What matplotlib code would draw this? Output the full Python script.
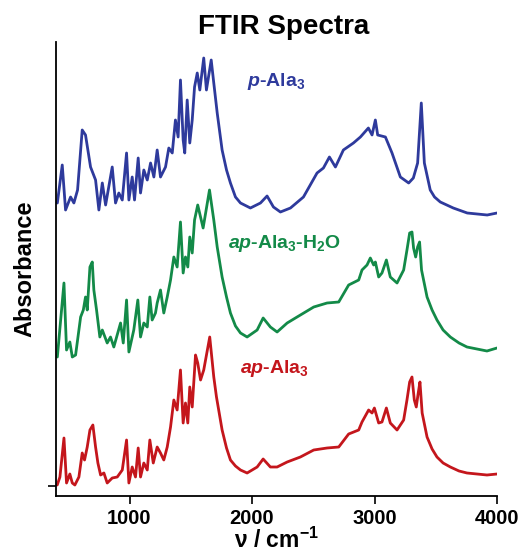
import matplotlib
matplotlib.use("Agg")
import matplotlib.pyplot as plt

# wavenumber (cm-1) and absorbance (a.u., each trace without its stacking offset)
nu_ap = [410, 432, 465, 486, 513, 533, 554, 587, 614, 633, 655, 677, 701, 723, 742, 764, 791,
         818, 859, 900, 941, 976, 995, 1022, 1049, 1071, 1090, 1117, 1145, 1166, 1194, 1226,
         1253, 1280, 1308, 1335, 1362, 1389, 1416, 1438, 1457, 1476, 1492, 1512, 1539, 1557,
         1580, 1606, 1655, 1688, 1710, 1756, 1792, 1824, 1865, 1906, 1960, 2042, 2091, 2150,
         2205, 2287, 2395, 2504, 2613, 2708, 2789, 2871, 2898, 2952, 2980, 2999, 3034, 3061,
         3097, 3129, 3184, 3238, 3265, 3287, 3306, 3325, 3341, 3357, 3371, 3389, 3429, 3470,
         3510, 3560, 3619, 3690, 3755, 3918, 4000]
abs_ap = [0.01, 0.09, 0.48, 0.03, 0.12, 0.03, 0.01, 0.09, 0.33, 0.26, 0.39, 0.56, 0.61, 0.39,
          0.23, 0.11, 0.13, 0.03, 0.08, 0.09, 0.16, 0.46, 0.03, 0.19, 0.09, 0.38, 0.09, 0.23,
          0.16, 0.46, 0.23, 0.39, 0.33, 0.26, 0.39, 0.59, 0.86, 0.76, 1.16, 0.63, 0.83, 0.63,
          0.99, 0.79, 1.31, 1.23, 1.06, 1.16, 1.49, 1.09, 0.89, 0.56, 0.38, 0.26, 0.20, 0.16,
          0.13, 0.19, 0.27, 0.19, 0.19, 0.24, 0.29, 0.36, 0.38, 0.39, 0.52, 0.56, 0.64, 0.76,
          0.73, 0.78, 0.63, 0.64, 0.78, 0.63, 0.56, 0.66, 0.86, 1.04, 1.09, 0.86, 0.79, 0.93,
          1.04, 0.73, 0.49, 0.37, 0.29, 0.23, 0.19, 0.15, 0.13, 0.11, 0.12]

nu_aph2o = [411, 465, 486, 513, 533, 560, 601, 623, 641, 655, 677, 696, 709, 731, 758, 778, 818,
            845, 872, 927, 949, 976, 995, 1035, 1068, 1090, 1117, 1145, 1166, 1185, 1212, 1226,
            1253, 1280, 1308, 1335, 1362, 1389, 1416, 1438, 1457, 1476, 1492, 1512, 1531, 1557,
            1601, 1653, 1688, 1716, 1756, 1792, 1824, 1865, 1906, 1960, 2042, 2091, 2150, 2205,
            2287, 2368, 2504, 2613, 2708, 2789, 2871, 2898, 2939, 2966, 2993, 3007, 3034, 3061,
            3097, 3129, 3184, 3238, 3265, 3287, 3306, 3319, 3336, 3352, 3368, 3384, 3429, 3470,
            3510, 3560, 3619, 3690, 3755, 3918, 4000]
abs_aph2o = [0.04, 0.78, 0.11, 0.19, 0.04, 0.06, 0.44, 0.51, 0.64, 0.51, 0.94, 0.99, 0.71, 0.51,
             0.24, 0.31, 0.18, 0.24, 0.14, 0.38, 0.18, 0.61, 0.09, 0.31, 0.61, 0.24, 0.38, 0.34,
             0.64, 0.41, 0.48, 0.58, 0.71, 0.48, 0.64, 0.81, 1.04, 0.94, 1.39, 0.88, 1.04, 0.94,
             1.24, 1.08, 1.41, 1.56, 1.33, 1.71, 1.41, 1.14, 0.84, 0.64, 0.48, 0.35, 0.28, 0.24,
             0.31, 0.43, 0.34, 0.29, 0.38, 0.44, 0.54, 0.58, 0.59, 0.76, 0.81, 0.91, 0.96, 1.03,
             0.96, 0.99, 0.84, 0.88, 1.01, 0.84, 0.78, 0.91, 1.11, 1.28, 1.29, 1.13, 1.04, 1.14,
             1.19, 0.91, 0.64, 0.51, 0.41, 0.31, 0.24, 0.18, 0.14, 0.10, 0.13]

nu_p = [411, 451, 478, 519, 546, 576, 614, 641, 682, 723, 750, 778, 805, 859, 886, 913, 941, 976,
        995, 1022, 1041, 1071, 1090, 1117, 1145, 1172, 1199, 1226, 1253, 1294, 1321, 1349, 1375,
        1397, 1416, 1438, 1451, 1471, 1492, 1512, 1531, 1553, 1574, 1606, 1628, 1667, 1688, 1716,
        1756, 1792, 1824, 1865, 1906, 1987, 2069, 2123, 2175, 2232, 2314, 2420, 2531, 2583, 2632,
        2681, 2746, 2828, 2885, 2950, 2980, 3007, 3026, 3089, 3143, 3211, 3279, 3317, 3352, 3382,
        3407, 3455, 3490, 3537, 3643, 3757, 3920, 4000]
abs_p = [0.23, 0.61, 0.16, 0.29, 0.23, 0.36, 0.96, 0.91, 0.59, 0.46, 0.16, 0.43, 0.21, 0.59,
         0.23, 0.33, 0.26, 0.73, 0.26, 0.49, 0.26, 0.68, 0.33, 0.56, 0.46, 0.63, 0.49, 0.76, 0.49,
         0.59, 0.78, 0.73, 1.06, 0.89, 1.46, 0.86, 0.73, 1.26, 0.83, 1.06, 1.39, 1.53, 1.36, 1.68,
         1.36, 1.66, 1.43, 1.13, 0.76, 0.56, 0.43, 0.29, 0.23, 0.18, 0.23, 0.30, 0.19, 0.14, 0.18,
         0.29, 0.53, 0.58, 0.69, 0.59, 0.76, 0.83, 0.89, 0.98, 0.91, 1.06, 0.91, 0.89, 0.73, 0.49,
         0.43, 0.48, 0.63, 1.23, 0.63, 0.36, 0.29, 0.24, 0.18, 0.13, 0.11, 0.13]

offsets = [0.0, 1.25, 2.6]
colors = ['#C4161C', '#138A48', '#2E3A9C']

plt.rcParams['font.family'] = ['Liberation Sans', 'DejaVu Sans']
plt.rcParams['font.weight'] = 'bold'
plt.rcParams['mathtext.fontset'] = 'custom'
plt.rcParams['mathtext.rm'] = 'Liberation Sans:bold'
plt.rcParams['mathtext.bf'] = 'Liberation Sans:bold'
plt.rcParams['mathtext.it'] = 'Liberation Sans:italic:bold'
plt.rcParams['mathtext.default'] = 'regular'

fig = plt.figure(figsize=(5.26, 5.58), dpi=100)
ax = fig.add_axes([56 / 526, 62 / 558, 441 / 526, 454 / 558])

spectra = [(nu_ap, abs_ap), (nu_aph2o, abs_aph2o), (nu_p, abs_p)]
for (x, y), off, c in zip(spectra, offsets, colors):
    ax.plot(x, [v + off for v in y], color=c, lw=2.0,
            solid_joinstyle='round', solid_capstyle='round')

ax.set_xlim(400, 4000)
ax.set_ylim(-0.10, 4.44)
ax.set_xticks([1000, 2000, 3000, 4000])
ax.set_yticks([0])
ax.set_yticklabels([])
ax.tick_params(direction='out', length=6, width=1.2, labelsize=14.5, pad=3)
for s in ['top', 'right']:
    ax.spines[s].set_visible(False)
for s in ['left', 'bottom']:
    ax.spines[s].set_linewidth(1.3)
for t in ax.get_xticklabels():
    t.set_fontweight('bold')

ax.set_xlabel(r'ν / cm$^{-1}$', fontsize=16.5, fontweight='bold', labelpad=0)
ax.set_ylabel('Absorbance', fontsize=17, fontweight='bold', labelpad=5)
fig.text(284 / 526, 1 - 27 / 558, 'FTIR Spectra', fontsize=20, fontweight='bold',
         ha='center', va='center')

fig.text(247 / 526, 1 - 86 / 558, r'$\mathit{p}$-Ala$_3$', fontsize=14, fontweight='bold',
         color=colors[2], va='baseline')
fig.text(228 / 526, 1 - 248 / 558, r'$\mathit{ap}$-Ala$_3$-H$_2$O', fontsize=14,
         fontweight='bold', color=colors[1], va='baseline')
fig.text(240 / 526, 1 - 373 / 558, r'$\mathit{ap}$-Ala$_3$', fontsize=14, fontweight='bold',
         color=colors[0], va='baseline')

fig.savefig('out.png', dpi=100)
